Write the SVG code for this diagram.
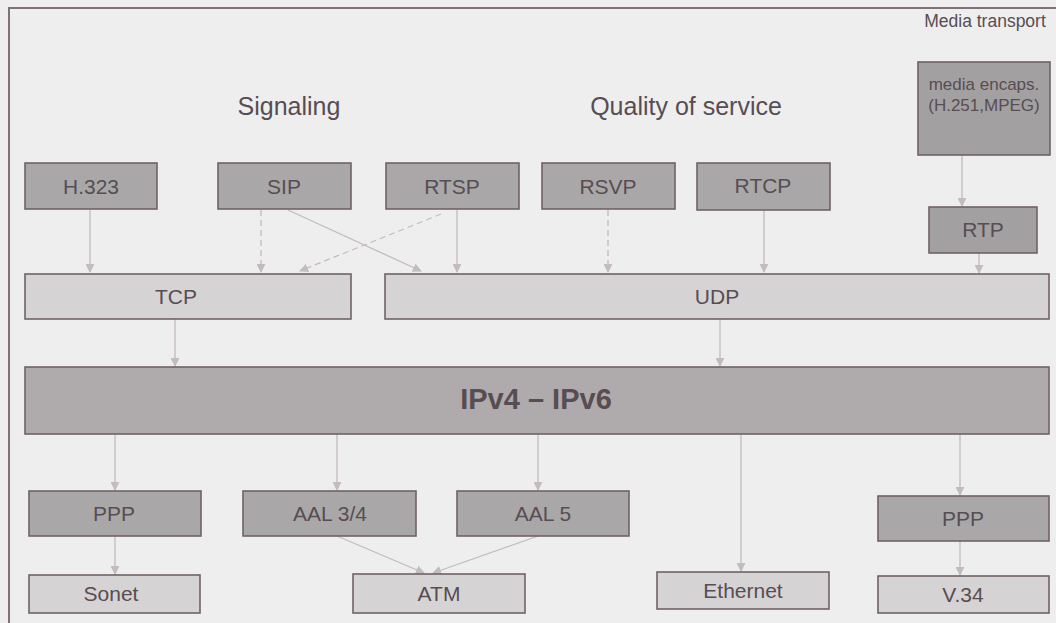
<svg xmlns="http://www.w3.org/2000/svg" width="1056" height="623" viewBox="0 0 1056 623">
<defs>
<style>
.bg{fill:#efeeef}
.frame{fill:none;stroke:#7d7278;stroke-width:2}
.dk{fill:#aaa7a8;stroke:#6e6268;stroke-width:1.6}
.md{fill:#a3a0a1;stroke:#6e6268;stroke-width:1.6}
.lt{fill:#d6d3d4;stroke:#6e6268;stroke-width:1.6}
.ip{fill:#afabac;stroke:#6e6268;stroke-width:1.6}
text{font-family:"Liberation Sans",Arial,sans-serif;fill:#574d53;text-anchor:middle}
.lbl{font-size:21px}
.big{font-size:25px}
.sm{font-size:17px}
.ipt{font-size:29px;font-weight:bold}
.c{fill:none;stroke:#c2bbbf;stroke-width:1.3}
.d{stroke-dasharray:6 4}
</style>
<marker id="ah" viewBox="0 0 10 10" refX="9" refY="5" markerWidth="9" markerHeight="9" markerUnits="userSpaceOnUse" orient="auto">
<path d="M0,0 L10,5 L0,10 z" fill="#c2bbbf"/>
</marker>
</defs>
<rect class="bg" x="0" y="0" width="1056" height="623"/>
<path class="frame" d="M9,623 L9,8 L1056,8"/>
<text class="big" x="289" y="115">Signaling</text>
<text class="big" x="686" y="115">Quality of service</text>
<text x="985" y="27" style="font-size:17.5px">Media transport</text>
<g id="connectors">
<line class="c" x1="90" y1="210" x2="90" y2="272" marker-end="url(#ah)"/>
<line class="c d" x1="261" y1="210" x2="261" y2="272" marker-end="url(#ah)"/>
<line class="c" x1="288" y1="210" x2="421" y2="271" marker-end="url(#ah)"/>
<line class="c d" x1="441" y1="214" x2="300" y2="271" marker-end="url(#ah)"/>
<line class="c" x1="457" y1="210" x2="457" y2="272" marker-end="url(#ah)"/>
<line class="c d" x1="608" y1="210" x2="608" y2="272" marker-end="url(#ah)"/>
<line class="c" x1="764" y1="210" x2="764" y2="272" marker-end="url(#ah)"/>
<line class="c" x1="962" y1="155" x2="962" y2="206" marker-end="url(#ah)"/>
<line class="c" x1="979" y1="253" x2="979" y2="273" marker-end="url(#ah)"/>
<line class="c" x1="175" y1="319" x2="175" y2="366" marker-end="url(#ah)"/>
<line class="c" x1="720" y1="319" x2="720" y2="366" marker-end="url(#ah)"/>
<line class="c" x1="115" y1="434" x2="115" y2="490" marker-end="url(#ah)"/>
<line class="c" x1="337" y1="434" x2="337" y2="490" marker-end="url(#ah)"/>
<line class="c" x1="538" y1="434" x2="538" y2="490" marker-end="url(#ah)"/>
<line class="c" x1="741" y1="434" x2="741" y2="571" marker-end="url(#ah)"/>
<line class="c" x1="960" y1="434" x2="960" y2="495" marker-end="url(#ah)"/>
<line class="c" x1="115" y1="536" x2="115" y2="574" marker-end="url(#ah)"/>
<line class="c" x1="337" y1="536" x2="424" y2="573" marker-end="url(#ah)"/>
<line class="c" x1="538" y1="536" x2="433" y2="573" marker-end="url(#ah)"/>
<line class="c" x1="960" y1="541" x2="960" y2="575" marker-end="url(#ah)"/>
</g>
<g id="h323"><rect class="dk" x="25" y="163" width="132" height="46"/><text class="lbl" x="91" y="194">H.323</text></g>
<g id="sip"><rect class="dk" x="218" y="163" width="133" height="46"/><text class="lbl" x="284" y="194">SIP</text></g>
<g id="rtsp"><rect class="dk" x="386" y="163" width="133" height="46"/><text class="lbl" x="452" y="194">RTSP</text></g>
<g id="rsvp"><rect class="dk" x="542" y="163" width="133" height="46"/><text class="lbl" x="608" y="194">RSVP</text></g>
<g id="rtcp"><rect class="dk" x="697" y="163" width="133" height="47"/><text class="lbl" x="763" y="193">RTCP</text></g>
<g id="media"><rect class="md" x="918" y="62" width="132" height="93"/><text class="sm" x="984" y="90">media encaps.</text><text class="sm" x="984" y="111">(H.251,MPEG)</text></g>
<g id="rtp"><rect class="md" x="929" y="207" width="108" height="46"/><text class="lbl" x="983" y="237">RTP</text></g>
<g id="tcp"><rect class="lt" x="25" y="274" width="326" height="45"/><text class="lbl" x="176" y="304">TCP</text></g>
<g id="udp"><rect class="lt" x="385" y="274" width="664" height="45"/><text class="lbl" x="717" y="304">UDP</text></g>
<g id="ip"><rect class="ip" x="25" y="367" width="1024" height="67"/><text class="ipt" x="536" y="409">IPv4 – IPv6</text></g>
<g id="ppp1"><rect class="dk" x="29" y="491" width="172" height="45"/><text class="lbl" x="114" y="521">PPP</text></g>
<g id="aal34"><rect class="dk" x="243" y="491" width="173" height="45"/><text class="lbl" x="330" y="521">AAL 3/4</text></g>
<g id="aal5"><rect class="dk" x="457" y="491" width="172" height="45"/><text class="lbl" x="543" y="521">AAL 5</text></g>
<g id="ppp2"><rect class="dk" x="878" y="496" width="171" height="45"/><text class="lbl" x="963" y="526">PPP</text></g>
<g id="sonet"><rect class="lt" x="29" y="575" width="171" height="38"/><text class="lbl" x="111" y="601">Sonet</text></g>
<g id="atm"><rect class="lt" x="353" y="574" width="172" height="39"/><text class="lbl" x="439" y="601">ATM</text></g>
<g id="ethernet"><rect class="lt" x="657" y="572" width="172" height="37"/><text class="lbl" x="743" y="598">Ethernet</text></g>
<g id="v34"><rect class="lt" x="878" y="576" width="171" height="37"/><text class="lbl" x="963" y="602">V.34</text></g>
</svg>
